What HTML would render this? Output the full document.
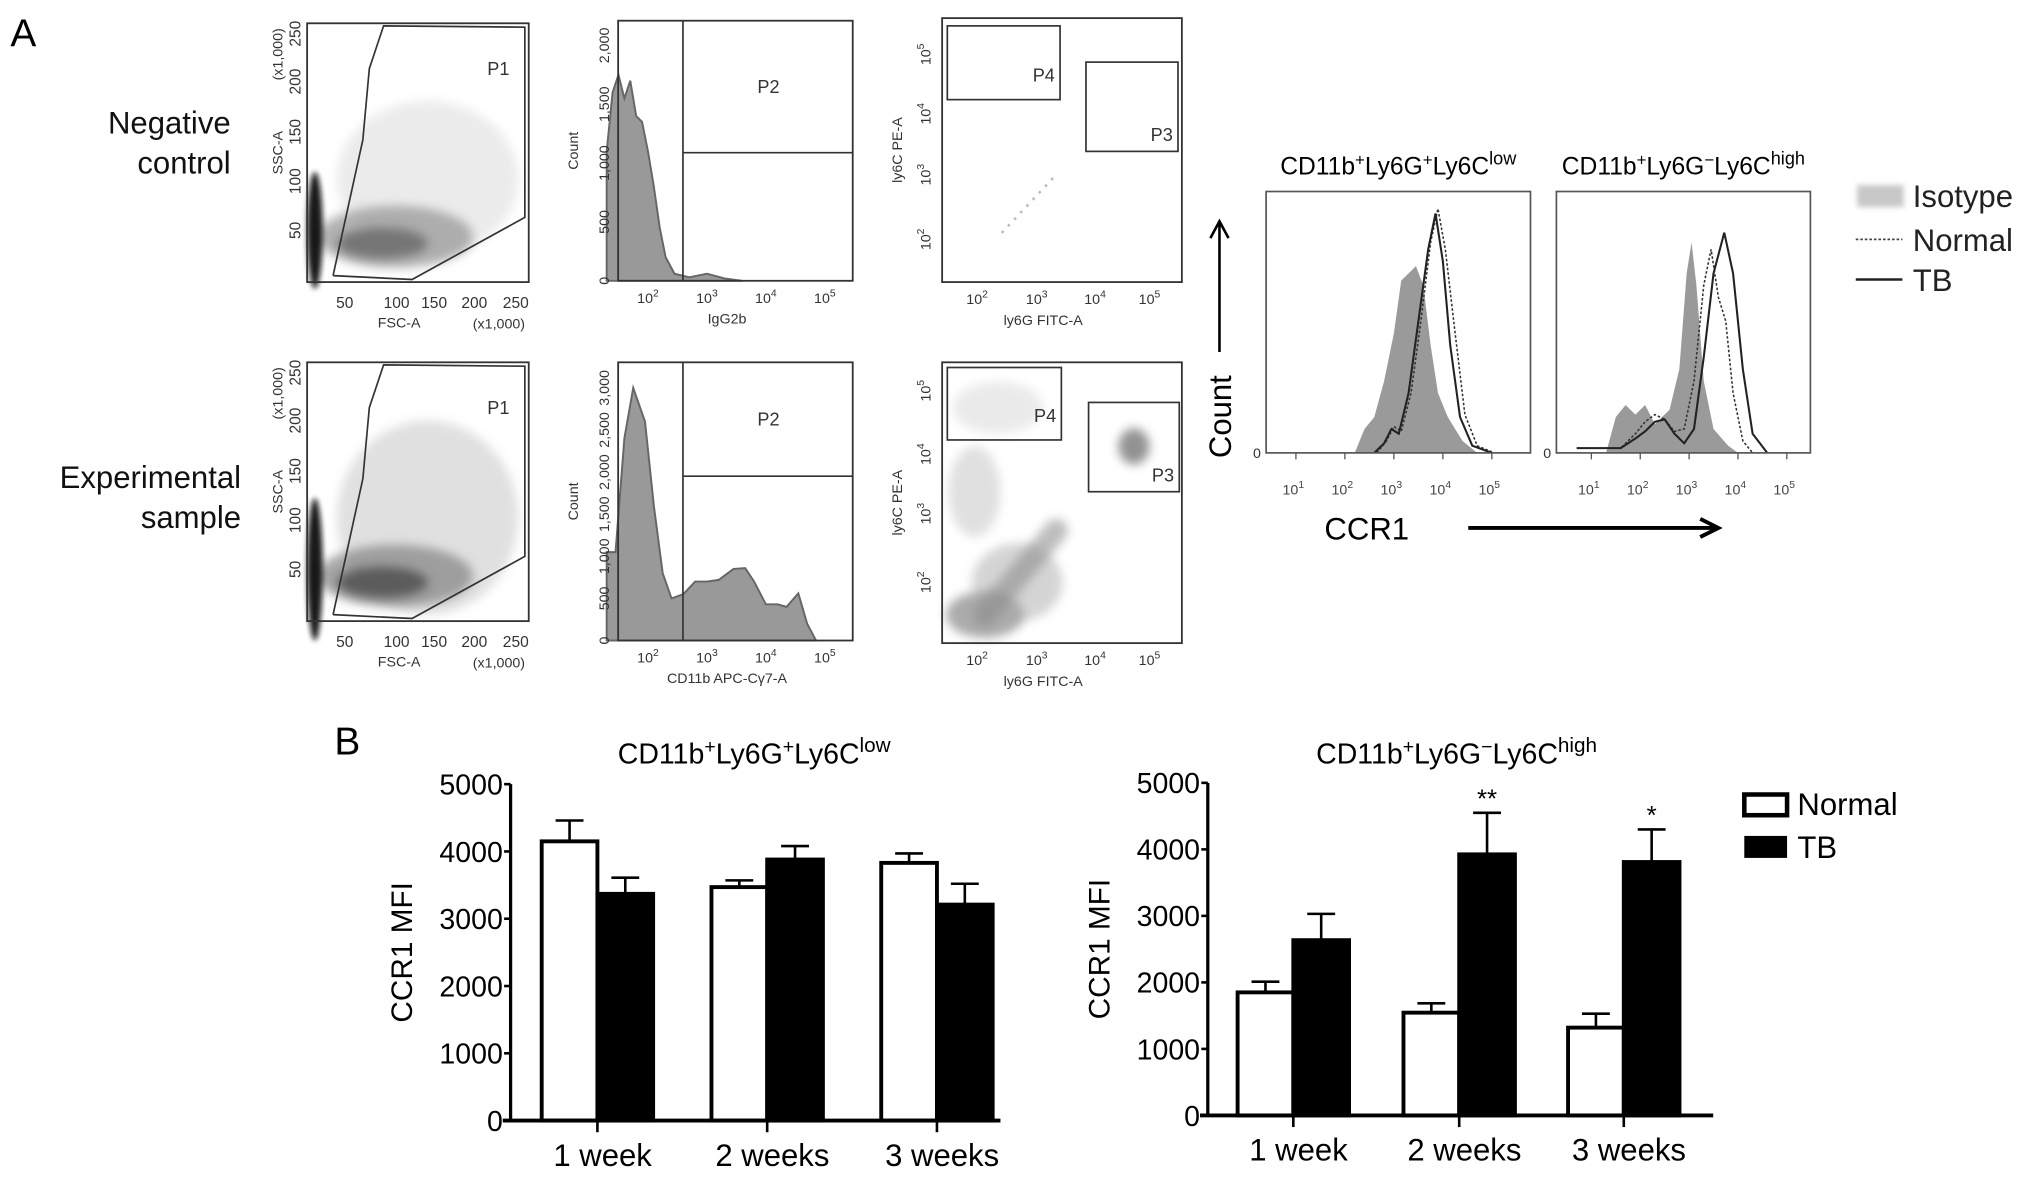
<!DOCTYPE html>
<html><head><meta charset="utf-8"><style>
html,body{margin:0;padding:0;background:#fff}
svg{display:block;font-family:"Liberation Sans",sans-serif}
</style></head><body>
<svg id="fig" width="2032" height="1184" viewBox="0 0 1568 915" preserveAspectRatio="none" xmlns="http://www.w3.org/2000/svg">
<defs>
<filter id="blur4" x="-50%" y="-50%" width="200%" height="200%"><feGaussianBlur stdDeviation="4"/></filter>
<filter id="blur2" x="-50%" y="-50%" width="200%" height="200%"><feGaussianBlur stdDeviation="2"/></filter>
</defs>
<text x="8" y="36" font-size="30">A</text>
<text x="258" y="583" font-size="30">B</text>
<g font-size="24" text-anchor="end" fill="#111">
<text x="178" y="103">Negative</text>
<text x="178" y="134">control</text>
<text x="186" y="377">Experimental</text>
<text x="186" y="408">sample</text>
</g>
<g id="flow"></g>
<g id="ccr"></g>
<g id="bars"></g>
</svg>
<script>
// ---------- bar chart data ----------
const weeks = ["1 week","2 weeks","3 weeks"];
const leftNormal = [4150, 3470, 3830];
const leftNormalErr = [310, 100, 140];
const leftTB = [3370, 3880, 3210];
const leftTBErr = [240, 200, 310];
const rightNormal = [1850, 1545, 1320];
const rightNormalErr = [160, 140, 210];
const rightTB = [2635, 3925, 3810];
const rightTBErr = [395, 625, 490];
const rightStars = ["", "**", "*"];
const yTicks = [0, 1000, 2000, 3000, 4000, 5000];

// ---------- CCR1 histogram data (log10 intensity, relative count) ----------
const leftIsoX = [2.2,2.4,2.6,2.8,3.0,3.15,3.3,3.45,3.6,3.75,3.9,4.1,4.4,4.7];
const leftIsoY = [0,0.1,0.15,0.3,0.5,0.72,0.75,0.78,0.7,0.45,0.25,0.15,0.05,0];
const leftTBX = [2.6,2.8,2.95,3.1,3.3,3.5,3.7,3.85,4.0,4.15,4.35,4.6,5.0];
const leftTBY = [0,0.04,0.1,0.08,0.25,0.55,0.85,1.0,0.8,0.45,0.15,0.03,0];
const leftNormX = [2.65,2.85,3.0,3.15,3.35,3.55,3.75,3.9,4.05,4.25,4.45,4.7,5.05];
const leftNormY = [0,0.05,0.11,0.09,0.25,0.55,0.88,1.02,0.85,0.5,0.16,0.03,0];
const rightIsoX = [1.3,1.5,1.7,1.9,2.1,2.3,2.6,2.8,2.95,3.05,3.15,3.3,3.5,3.8,4.0];
const rightIsoY = [0,0.15,0.2,0.16,0.2,0.12,0.18,0.35,0.75,0.88,0.7,0.3,0.1,0.03,0];
const rightTBX = [0.7,1.6,1.9,2.1,2.3,2.5,2.7,2.9,3.1,3.3,3.5,3.72,3.9,4.1,4.3,4.6];
const rightTBY = [0.02,0.02,0.06,0.09,0.13,0.14,0.08,0.04,0.1,0.4,0.75,0.92,0.75,0.35,0.08,0];
const rightNormX = [0.7,1.6,1.9,2.1,2.3,2.5,2.7,2.9,3.1,3.3,3.45,3.6,3.75,3.9,4.1,4.3];
const rightNormY = [0.02,0.02,0.08,0.13,0.16,0.14,0.09,0.1,0.3,0.7,0.85,0.65,0.55,0.25,0.05,0];
const decadeLabels = ["1","2","3","4","5"];

// ---------- flow histogram data ----------
const igX = [1.3,1.4,1.5,1.6,1.7,1.8,1.9,2.0,2.1,2.2,2.3,2.45,2.7,3.0,3.3,3.6];
const igY = [1100,1600,1750,1550,1700,1400,1350,1100,800,450,200,60,30,60,20,0];
const cdX = [1.3,1.45,1.6,1.75,1.85,1.95,2.1,2.25,2.4,2.6,2.8,3.0,3.2,3.45,3.65,3.8,4.0,4.2,4.35,4.55,4.7,4.85];
const cdY = [1050,1050,2400,3000,2800,2600,1600,800,500,550,700,700,720,850,860,700,430,430,400,560,200,0];

const NS = "http://www.w3.org/2000/svg";
function mk(tag, attrs, parent){const e=document.createElementNS(NS,tag);for(const k in attrs)e.setAttribute(k,attrs[k]);parent.appendChild(e);return e;}
function txt(s, attrs, parent){const e=mk("text",attrs,parent);e.textContent=s;return e;}

// ================= Bar charts =================
const bars = document.getElementById("bars");
function barChart(cfg){
  const g = mk("g",{},bars);
  
  
  const y = v => cfg.y0 - (v/5000)*(cfg.y0-cfg.y5);
  const t = mk("text",{x:cfg.titleX,y:cfg.titleY,"font-size":22,"text-anchor":"middle"},g);
  
  
  t.innerHTML = cfg.title;
  const ya = mk("line",{x1:cfg.ax,y1:y(5000),x2:cfg.ax,y2:y(0),stroke:"#000","stroke-width":2.5},g);
  
  
  yTicks.forEach(v=>{
    const tk = mk("line",{x1:cfg.ax-5,y1:y(v),x2:cfg.ax,y2:y(v),stroke:"#000","stroke-width":2},g);
    
    
    const tl = txt(String(v),{x:cfg.ax-6,y:y(v)+8,"font-size":22,"text-anchor":"end"},g);
    
    
  });
  const yt = txt("CCR1 MFI",{x:0,y:0,"font-size":23,"text-anchor":"middle",transform:`translate(${cfg.ax-76},${y(2500)}) rotate(-90)`},g);
  
  
  weeks.forEach((w,i)=>{
    const cx = cfg.centers[i], bw = cfg.bw;
    const n = cfg.normal[i], ne = cfg.normalErr[i], tb = cfg.tb[i], te = cfg.tbErr[i];
    const e1 = mk("path",{d:`M${cx-bw/2-bw/4} ${y(n+ne)} H${cx-bw/2+bw/4} M${cx-bw/2} ${y(n)} V${y(n+ne)}`,stroke:"#000","stroke-width":2,fill:"none"},g);
    
    
    const b1 = mk("rect",{x:cx-bw,y:y(n),width:bw,height:y(0)-y(n),fill:"#fff",stroke:"#000","stroke-width":3},g);
    
    
    const e2 = mk("path",{d:`M${cx+bw/2-bw/4} ${y(tb+te)} H${cx+bw/2+bw/4} M${cx+bw/2} ${y(tb)} V${y(tb+te)}`,stroke:"#000","stroke-width":2,fill:"none"},g);
    
    
    const b2 = mk("rect",{x:cx,y:y(tb),width:bw,height:y(0)-y(tb),fill:"#000",stroke:"#000","stroke-width":3},g);
    
    
    if(cfg.stars && cfg.stars[i]){
      const s = txt(cfg.stars[i],{x:cx+bw/2,y:y(tb+te)-4,"font-size":20,"text-anchor":"middle"},g);
      
      
    }
    const xt = mk("line",{x1:cx,y1:y(0),x2:cx,y2:y(0)+9,stroke:"#000","stroke-width":2},g);
    
    
    const xl = txt(w,{x:cx+4,y:y(0)+35,"font-size":24,"text-anchor":"middle"},g);
    
    
  });
  const xa = mk("line",{x1:cfg.ax-6,y1:y(0),x2:cfg.axEnd,y2:y(0),stroke:"#000","stroke-width":3},g);
  
  
}
barChart({name:"bar-chart-ly6c-low",ax:394,axEnd:772,y0:866,y5:606,centers:[461,592,723],bw:43,
  normal:leftNormal,normalErr:leftNormalErr,tb:leftTB,tbErr:leftTBErr,titleX:582,titleY:590,
  title:'CD11b<tspan dy="-8" font-size="15">+</tspan><tspan dy="8">Ly6G</tspan><tspan dy="-8" font-size="15">+</tspan><tspan dy="8">Ly6C</tspan><tspan dy="-9" font-size="16">low</tspan>'});
barChart({name:"bar-chart-ly6c-high",ax:932,axEnd:1322,y0:862,y5:605,centers:[998,1126,1253],bw:43,
  normal:rightNormal,normalErr:rightNormalErr,tb:rightTB,tbErr:rightTBErr,stars:rightStars,titleX:1124,titleY:590,
  title:'CD11b<tspan dy="-8" font-size="15">+</tspan><tspan dy="8">Ly6G</tspan><tspan dy="-8" font-size="15">−</tspan><tspan dy="8">Ly6C</tspan><tspan dy="-9" font-size="16">high</tspan>'});
const lg = mk("g",{},bars);


const l1 = mk("rect",{x:1346,y:614,width:33,height:16,fill:"#fff",stroke:"#000","stroke-width":3.5},lg);


const l1t = txt("Normal",{x:1387,y:630,"font-size":24},lg);


const l2 = mk("rect",{x:1346,y:646,width:33,height:17,fill:"#000"},lg);


const l2t = txt("TB",{x:1387,y:663,"font-size":24},lg);



// ================= CCR1 histograms =================
const ccr = document.getElementById("ccr");
function ccrPanel(cfg){
  const g = mk("g",{},ccr);
  
  
  const xs = l => cfg.x1 + (l-1)*cfg.dec;
  const ys = v => 350 - v*185;
  const path = (X,Y,close) => { let d = `M${xs(X[0])} ${ys(Y[0])}`; for(let i=1;i<X.length;i++) d+=` L${xs(X[i])} ${ys(Y[i])}`; if(close) d+=` L${xs(X[X.length-1])} 350 L${xs(X[0])} 350 Z`; return d; };
  const iso = mk("path",{d:path(cfg.isoX,cfg.isoY,true),fill:"#9a9a9a",stroke:"none"},g);
  
  
  const nm = mk("path",{d:path(cfg.nX,cfg.nY,false),fill:"none",stroke:"#333","stroke-width":1.2,"stroke-dasharray":"2 1.5"},g);
  
  
  const tb = mk("path",{d:path(cfg.tX,cfg.tY,false),fill:"none",stroke:"#222","stroke-width":1.6},g);
  
  
  const box = mk("rect",{x:cfg.bx,y:148,width:cfg.bw,height:202,fill:"none",stroke:"#555","stroke-width":1.3},g);
  
  
  const z = txt("0",{x:cfg.bx-4,y:354,"font-size":11,"text-anchor":"end",fill:"#333"},g);
  
  
  decadeLabels.forEach((d,i)=>{
    const tl = mk("text",{x:xs(i+1)-2,y:382,"font-size":11,"text-anchor":"middle",fill:"#444"},g);
    
    
    tl.innerHTML = `10<tspan dy="-5" font-size="8">${d}</tspan>`;
    const tk = mk("line",{x1:xs(i+1),y1:350,x2:xs(i+1),y2:355,stroke:"#555","stroke-width":1},g);
    
    
  });
  const t = mk("text",{x:cfg.bx+cfg.bw/2,y:135,"font-size":19,"text-anchor":"middle"},g);
  
  
  t.innerHTML = cfg.title;
}
ccrPanel({name:"ccr1-histogram-ly6c-low",bx:977,bw:204,x1:1000,dec:37.8,isoX:leftIsoX,isoY:leftIsoY,nX:leftNormX,nY:leftNormY,tX:leftTBX,tY:leftTBY,
  title:'CD11b<tspan dy="-7" font-size="13">+</tspan><tspan dy="7">Ly6G</tspan><tspan dy="-7" font-size="13">+</tspan><tspan dy="7">Ly6C</tspan><tspan dy="-8" font-size="14">low</tspan>'});
ccrPanel({name:"ccr1-histogram-ly6c-high",bx:1201,bw:196,x1:1228,dec:37.7,isoX:rightIsoX,isoY:rightIsoY,nX:rightNormX,nY:rightNormY,tX:rightTBX,tY:rightTBY,
  title:'CD11b<tspan dy="-7" font-size="13">+</tspan><tspan dy="7">Ly6G</tspan><tspan dy="-7" font-size="13">−</tspan><tspan dy="7">Ly6C</tspan><tspan dy="-8" font-size="14">high</tspan>'});
{
  const g = mk("g",{},ccr);
  
  
  const c = txt("Count",{x:0,y:0,"font-size":24,"text-anchor":"middle",transform:"translate(950,322) rotate(-90)"},g);
  
  
  const a1 = mk("path",{d:"M941 272 V172 M934 184 L941 171 L948 184",stroke:"#000","stroke-width":2,fill:"none"},g);
  
  
  const c2 = txt("CCR1",{x:1022,y:417,"font-size":24},g);
  
  
  const a2 = mk("path",{d:"M1133 408 H1325 M1312 401 L1326 408 L1312 415",stroke:"#000","stroke-width":3,fill:"none"},g);
  
  
  const s1 = mk("rect",{x:1433,y:143,width:36,height:17,fill:"#c8c8c8",filter:"url(#blur2)"},g);
  
  
  const t1 = txt("Isotype",{x:1476,y:160,"font-size":24,fill:"#222"},g);
  
  
  const s2 = mk("line",{x1:1432,y1:185,x2:1468,y2:185,stroke:"#444","stroke-width":1.3,"stroke-dasharray":"2 1.5"},g);
  
  
  const t2 = txt("Normal",{x:1476,y:194,"font-size":24,fill:"#222"},g);
  
  
  const s3 = mk("line",{x1:1432,y1:216,x2:1468,y2:216,stroke:"#222","stroke-width":2},g);
  
  
  const t3 = txt("TB",{x:1476,y:225,"font-size":24,fill:"#222"},g);
  
  
}

// ================= Flow plots =================
const flow = document.getElementById("flow");
function frame(g,x,y,w,h){const r=mk("rect",{x,y,width:w,height:h,fill:"none",stroke:"#333","stroke-width":1.4},g);}
function small(g,s,a,name){const t=txt(s,Object.assign({"font-size":11,fill:"#333"},a),g);return t;}
function pow(g,d,x,y,name){const t=mk("text",{x,y,"font-size":11,"text-anchor":"middle",fill:"#333"},g);t.innerHTML=`10<tspan dy="-5" font-size="8">${d}</tspan>`;}
function powRot(g,d,x,y,name){const t=mk("text",{x:0,y:0,"font-size":11,"text-anchor":"middle",fill:"#333",transform:`translate(${x},${y}) rotate(-90)`},g);t.innerHTML=`10<tspan dy="-5" font-size="8">${d}</tspan>`;}
function blob(g,cx,cy,rx,ry,fill,op,f){const e=mk("ellipse",{cx,cy,rx,ry,fill,opacity:op,filter:f||"url(#blur4)"},g);return e;}

function fscPlot(top, exp){
  const g = mk("g",{},flow);
  
  
  const b = top+200;
  blob(g,330,b-80,70,exp?75:60,"#c8c8c8",exp?0.55:0.35);
  blob(g,305,b-35,60,24,exp?"#888":"#999",0.75);
  blob(g,295,b-30,35,12,exp?"#555":"#707070",0.9);
  blob(g,243,b-40,6,exp?55:45,"#111",0.95,"url(#blur2)");
  const gate = mk("path",{d:`M257 ${b-5} L280 ${b-110} L285 ${b-165} L296 ${top+2} L405 ${top+3} L405 ${b-50} L318 ${b-2} L257 ${b-5}`,fill:"none",stroke:"#333","stroke-width":1.3},g);
  
  frame(g,237,top,171,b-top);
  small(g,"P1",{x:376,y:top+40,"font-size":14},"gate-label-p1");
  [["250",top+8],["200",top+45],["150",top+84],["100",top+122],["50",top+160]].forEach(([s,yy])=>{
    small(g,s,{x:0,y:0,"text-anchor":"middle",transform:`translate(232,${yy}) rotate(-90)`,"font-size":12},"y-tick-label");
  });
  small(g,"SSC-A",{x:0,y:0,"text-anchor":"middle",transform:`translate(218,${top+100}) rotate(-90)`},"y-axis-title");
  small(g,"(x1,000)",{x:0,y:0,"text-anchor":"middle",transform:`translate(218,${top+24}) rotate(-90)`},"y-axis-unit");
  [["50",266],["100",306],["150",335],["200",366],["250",398]].forEach(([s,xx])=>small(g,s,{x:xx,y:b+20,"text-anchor":"middle","font-size":12},"x-tick-label"));
  small(g,"FSC-A",{x:308,y:b+35,"text-anchor":"middle"},"x-axis-title");
  small(g,"(x1,000)",{x:385,y:b+36,"text-anchor":"middle"},"x-axis-unit");
}
fscPlot(18,false);
fscPlot(280,true);

function histPlot(top,bottom,X,Y,ymax,ticks,label,gateY,name){
  const g = mk("g",{},flow);
  
  
  const xs = l => 500 + (l-2)*45.5;
  const ys = v => bottom - (v/ymax)*(bottom-top-10);
  let d=`M${xs(X[0])} ${bottom}`;X.forEach((l,i)=>d+=` L${xs(l)} ${ys(Y[i])}`);d+=` L${xs(X[X.length-1])} ${bottom} Z`;
  const h = mk("path",{d,fill:"#999",stroke:"#666","stroke-width":1.5},g);
  
  frame(g,477,top,181,bottom-top);
  const gl = mk("path",{d:`M527 ${top} V${bottom} M527 ${gateY} H658`,stroke:"#333","stroke-width":1.3,fill:"none"},g);
  
  small(g,"P2",{x:593,y:(top+gateY)/2+5,"font-size":14,"text-anchor":"middle"},"gate-label-p2");
  ticks.forEach(v=>small(g,v.toLocaleString("en-US"),{x:0,y:0,"text-anchor":"middle","font-size":11,transform:`translate(470,${ys(v)}) rotate(-90)`},"y-tick-label"));
  small(g,"Count",{x:0,y:0,"text-anchor":"middle",transform:`translate(446,${(top+bottom)/2}) rotate(-90)`},"y-axis-title");
  ["2","3","4","5"].forEach((dd,i)=>pow(g,dd,xs(i+2),bottom+17,"x-tick-label"));
  small(g,label,{x:561,y:bottom+33,"text-anchor":"middle"},"x-axis-title");
}
histPlot(16,217,igX,igY,2100,[0,500,1000,1500,2000],"IgG2b",118,"igg2b-histogram");
histPlot(280,495,cdX,cdY,3150,[0,500,1000,1500,2000,2500,3000],"CD11b APC-Cγ7-A",368,"cd11b-histogram");

function ly6Plot(top,bottom,exp,p4,p3,yt){
  const g = mk("g",{},flow);
  
  
  if(exp){
    blob(g,760,475,30,18,"#888",0.7);
    blob(g,785,450,35,30,"#aaa",0.5);
    const st=mk("line",{x1:760,y1:475,x2:815,y2:410,stroke:"#888","stroke-width":18,opacity:0.55,filter:"url(#blur4)","stroke-linecap":"round"},g);
    
    blob(g,752,380,20,35,"#bbb",0.45);
    blob(g,770,315,35,20,"#ccc",0.4);
    blob(g,875,345,12,14,"#777",0.8);
  } else {
    const e=mk("line",{x1:773,y1:180,x2:815,y2:135,stroke:"#bbb","stroke-width":2,"stroke-dasharray":"2 5"},g);
  }
  frame(g,727,top,185,bottom-top);
  const r4=mk("rect",{x:p4[0],y:p4[1],width:p4[2],height:p4[3],fill:"none",stroke:"#333","stroke-width":1.3},g);
  const r3=mk("rect",{x:p3[0],y:p3[1],width:p3[2],height:p3[3],fill:"none",stroke:"#333","stroke-width":1.3},g);
  small(g,"P4",{x:p4[0]+p4[2]-4,y:p4[1]+p4[3]-14,"font-size":14,"text-anchor":"end"},"gate-label-p4");
  small(g,"P3",{x:p3[0]+p3[2]-4,y:p3[1]+p3[3]-8,"font-size":14,"text-anchor":"end"},"gate-label-p3");
  ["5","4","3","2"].forEach((dd,i)=>powRot(g,dd,718,yt[i],"y-tick-label"));
  [754,800,845,887].forEach((xx,i)=>pow(g,String(i+2),xx,bottom+17,"x-tick-label"));
  small(g,"ly6C PE-A",{x:0,y:0,"text-anchor":"middle",transform:`translate(696,${(top+bottom)/2}) rotate(-90)`},"y-axis-title");
  small(g,"ly6G FITC-A",{x:805,y:bottom+33,"text-anchor":"middle"},"x-axis-title");
}
ly6Plot(14,218,false,[731,20,87,57],[838,48,71,69],[42,88,135,185]);
ly6Plot(280,497,true,[731,284,88,56],[840,311,70,69],[302,351,397,450]);
</script>
</body></html>
